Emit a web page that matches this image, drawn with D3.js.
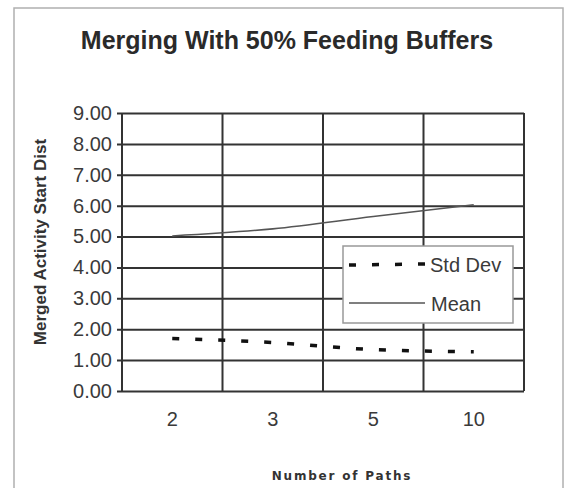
<!DOCTYPE html>
<html>
<head>
<meta charset="utf-8">
<script src="https://cdn.jsdelivr.net/npm/d3@7"></script>
<style>
  body { margin: 0; background: #fff; }
  text { font-family: "Liberation Sans", Arial, sans-serif; }
</style>
</head>
<body>
<div id="chart"></div>
<script>
// chart data
var paths = ["2", "3", "5", "10"];
var meanValues = [5.02, 5.25, 5.65, 6.03];
var stdDevValues = [1.7, 1.57, 1.34, 1.27];
var yTicks = [0, 1, 2, 3, 4, 5, 6, 7, 8, 9];

var W = 565, H = 488;
// plot area
var margin = { top: 113, right: 41, bottom: 97, left: 122 },
  width = W - margin.left - margin.right,
  height = H - margin.top - margin.bottom;

var svg = d3.select("#chart").append("svg")
  .attr("width", W)
  .attr("height", H);

// outer frame
svg.append("rect")
  .attr("x", 14).attr("y", 8)
  .attr("width", 549).attr("height", 500)
  .style("fill", "#fff")
  .style("stroke", "#b0b0b0")
  .style("stroke-width", 1.5);

// title
svg.append("text")
  .attr("x", 287).attr("y", 49)
  .attr("text-anchor", "middle")
  .style("font-size", "25px")
  .style("font-weight", "bold")
  .style("fill", "#2a2a2a")
  .text("Merging With 50% Feeding Buffers");

var g = svg.append("g")
  .attr("transform", "translate(" + margin.left + "," + margin.top + ")");

var x = d3.scaleBand().domain(paths).range([0, width]);
var y = d3.scaleLinear().domain([0, 9]).range([height, 0]);

// horizontal gridlines + y ticks
g.append("g")
  .attr("class", "y axis")
  .call(d3.axisLeft(y).tickValues(yTicks).tickSize(-width).tickSizeOuter(0)
    .tickPadding(10).tickFormat(d3.format(".2f")))
  .call(function(a) {
    a.select(".domain").remove();
    a.selectAll(".tick line").attr("x1", -5).style("stroke", "#333").style("stroke-width", 2);
    a.selectAll(".tick text").style("font-size", "20px").style("fill", "#3a3a3a")
      .style("font-family", "'Liberation Sans', Arial, sans-serif");
  });

// vertical gridlines at category borders
var borders = paths.map(function(p) { return x(p); }).concat([width]);
g.selectAll(".vgrid")
  .data(borders)
  .enter()
  .append("line")
  .attr("class", "vgrid")
  .attr("x1", function(d) { return d; })
  .attr("x2", function(d) { return d; })
  .attr("y1", 0)
  .attr("y2", height)
  .style("stroke", "#333")
  .style("stroke-width", 2);

// x labels
g.append("g")
  .attr("class", "x axis")
  .attr("transform", "translate(0," + height + ")")
  .call(d3.axisBottom(x).tickSize(0).tickPadding(21))
  .call(function(a) {
    a.select(".domain").remove();
    a.selectAll(".tick text").style("font-size", "20px").style("fill", "#3a3a3a")
      .style("font-family", "'Liberation Sans', Arial, sans-serif");
  });

var cx = function(d, i) { return x(paths[i]) + x.bandwidth() / 2; };

// mean line
var meanLine = d3.line()
  .x(function(d, i) { return cx(d, i); })
  .y(function(d) { return y(d); })
  .curve(d3.curveMonotoneX);

g.append("path")
  .datum(meanValues)
  .attr("d", meanLine)
  .style("fill", "none")
  .style("stroke", "#555")
  .style("stroke-width", 1.6);

// std dev line
g.append("path")
  .datum(stdDevValues)
  .attr("d", meanLine)
  .style("fill", "none")
  .style("stroke", "#111")
  .style("stroke-width", 3.5)
  .style("stroke-dasharray", "7,16");

// legend
var legend = svg.append("g").attr("transform", "translate(343,246)");
legend.append("rect")
  .attr("width", 170).attr("height", 77)
  .style("fill", "#fff")
  .style("stroke", "#999")
  .style("stroke-width", 1.5);
legend.append("line")
  .attr("x1", 6).attr("x2", 84).attr("y1", 19).attr("y2", 18)
  .style("stroke", "#111")
  .style("stroke-width", 3.5)
  .style("stroke-dasharray", "7,16");
legend.append("text")
  .attr("x", 87).attr("y", 26)
  .style("font-size", "20px").style("fill", "#3a3a3a")
  .text("Std Dev");
legend.append("line")
  .attr("x1", 6).attr("x2", 82).attr("y1", 57).attr("y2", 57)
  .style("stroke", "#555")
  .style("stroke-width", 1.6);
legend.append("text")
  .attr("x", 88).attr("y", 65)
  .style("font-size", "20px").style("fill", "#3a3a3a")
  .text("Mean");

// y axis title
svg.append("text")
  .attr("transform", "translate(46,242) rotate(-90)")
  .attr("text-anchor", "middle")
  .style("font-size", "17px")
  .style("font-weight", "bold")
  .style("fill", "#333")
  .text("Merged Activity Start Dist");

// x axis title
svg.append("text")
  .attr("x", 342).attr("y", 480)
  .attr("text-anchor", "middle")
  .style("font-family", "'DejaVu Sans', sans-serif")
  .style("font-size", "12px")
  .style("font-weight", "bold")
  .style("letter-spacing", "1.8px")
  .style("fill", "#333")
  .text("Number of Paths");
</script>
</body>
</html>
